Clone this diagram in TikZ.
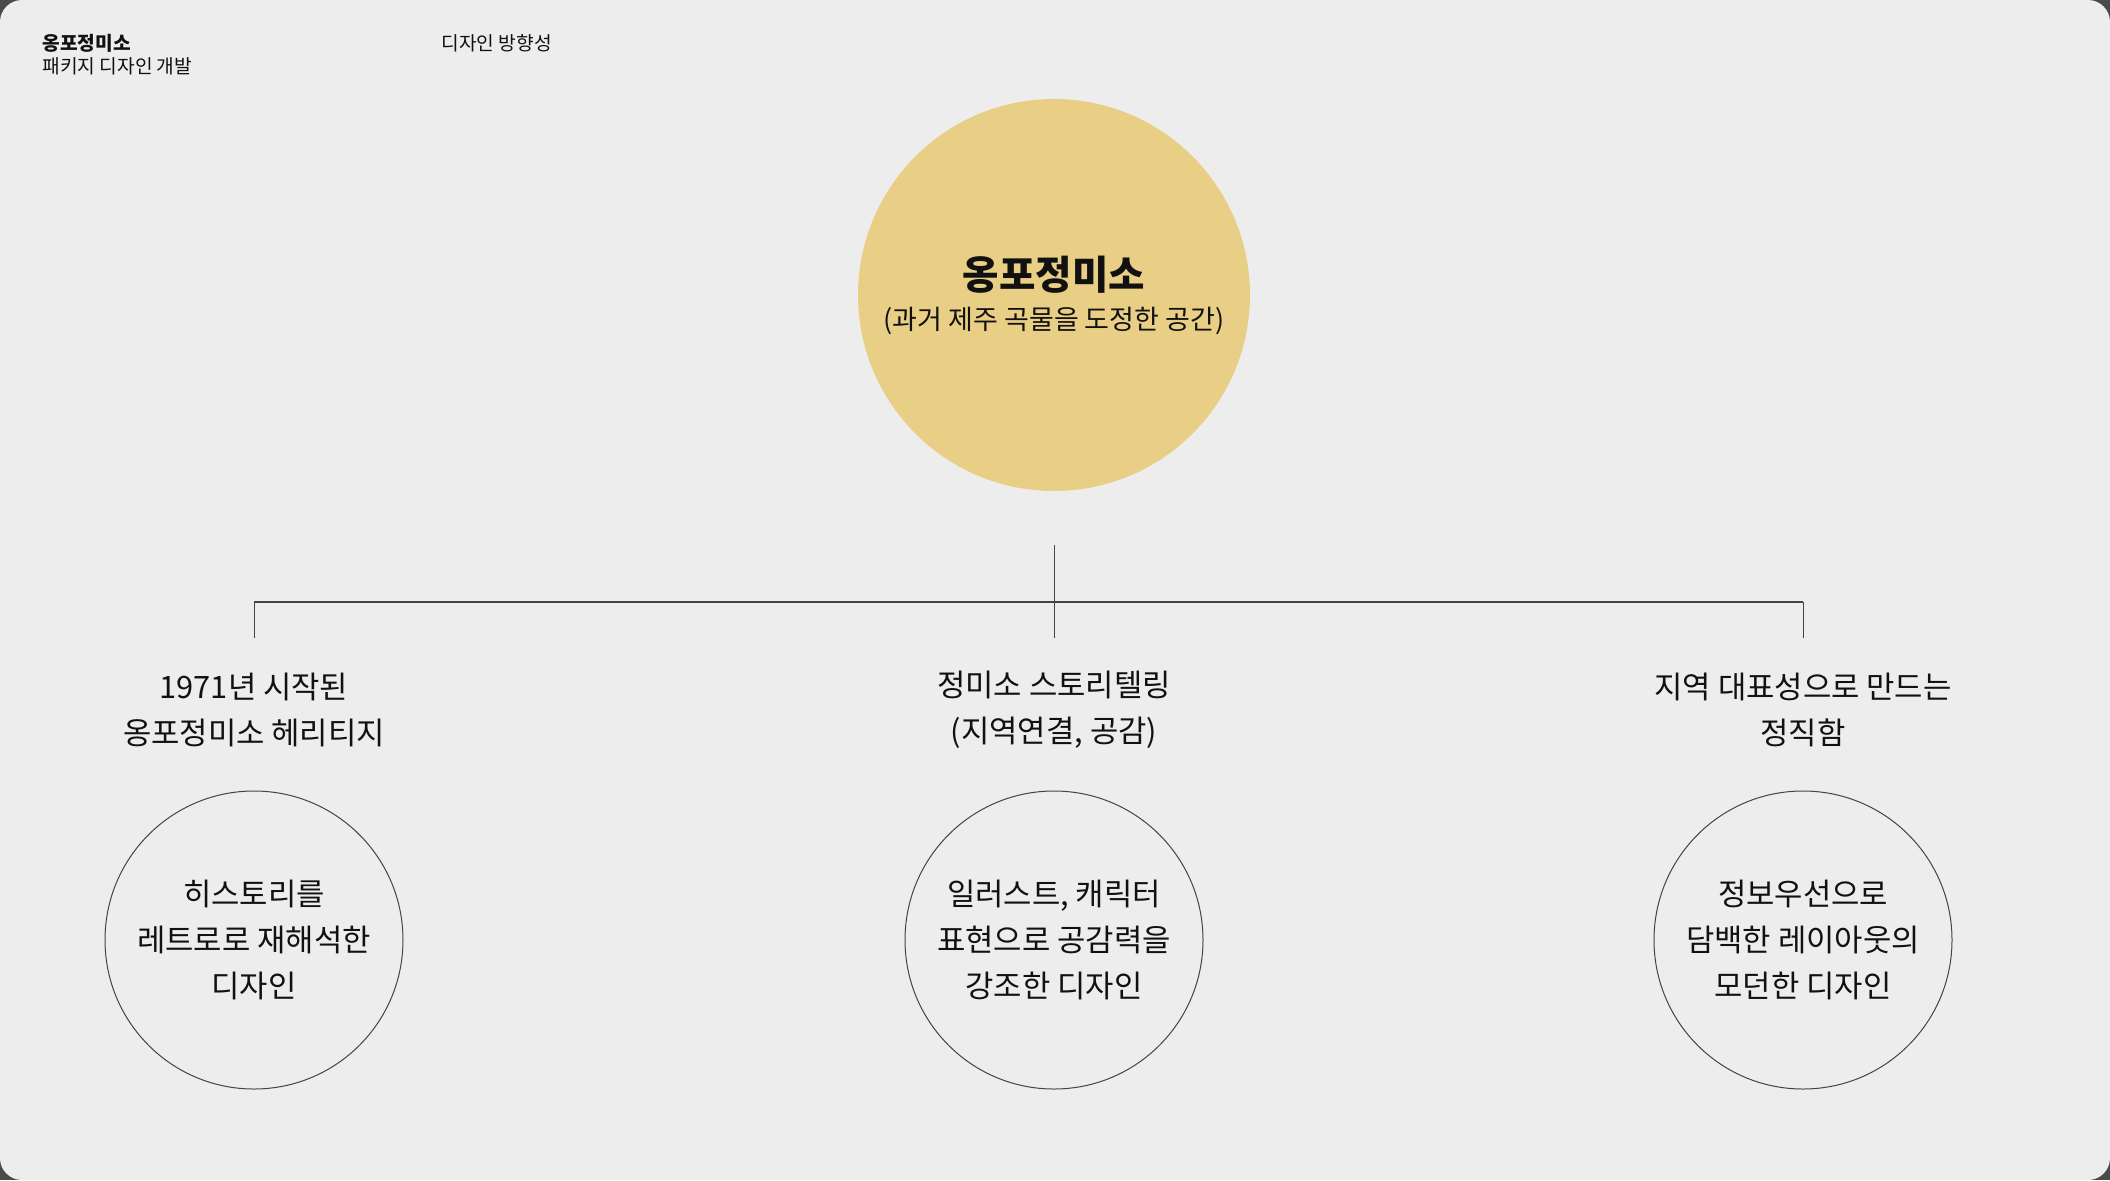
\documentclass[tikz,border=0pt]{standalone}
\usepackage{fontspec}
\setmainfont{Noto Sans CJK KR}
\definecolor{paper}{HTML}{EDEDED}
\definecolor{frame}{HTML}{4A4A4A}
\definecolor{grain}{HTML}{E9CF85}
\definecolor{ink}{HTML}{111111}
\definecolor{rule}{HTML}{444444}

\begin{document}
\begin{tikzpicture}[x=0.5pt,y=-0.5pt]
    \tikzstyle{every node}=[font=\fontsize{15.4}{23}\selectfont, text=ink, align=center, inner sep=0pt]
    \tikzstyle{idea}=[circle, draw=rule, line width=0.5pt, minimum size=149pt]
    \tikzstyle{wire}=[draw=rule, line width=0.5pt]
    \useasboundingbox (0,0) rectangle (2110,1180);
    \fill[frame] (0,0) rectangle (2110,1180);
    \fill[paper, rounded corners=11pt] (0,0) rectangle (2110,1180);

    \node[anchor=west, align=left, font=\fontsize{9.6}{11.5}\selectfont] (brand) at (42,55)
    {\bfseries 옹포정미소\\패키지 디자인 개발};
    \node[anchor=west, font=\fontsize{9.6}{11.5}\selectfont] (section) at (441,43) {디자인 방향성};

    \node[circle, fill=grain, minimum size=196pt] (origin) at (1054,295)
    {{\fontsize{19.8}{22}\selectfont\bfseries 옹포정미소}\\[-3pt]
    {\fontsize{13.5}{16}\selectfont (과거 제주 곡물을 도정한 공간)}};

    \coordinate (stemtop) at (1054,545);
    \coordinate (lefthub) at (254,602);
    \coordinate (righthub) at (1803,602);
    \coordinate (leftend) at (254,638);
    \coordinate (midend) at (1054,638);
    \coordinate (rightend) at (1803,638);
    \draw[wire] (stemtop) -- (midend);
    \draw[wire, line width=0.9pt] (lefthub) -- (righthub);
    \draw[wire] (lefthub) -- (leftend);
    \draw[wire] (righthub) -- (rightend);

    \node (heritage) at (254,710) {1971년 시작된\\옹포정미소 헤리티지};
    \node (story) at (1054,710) {정미소 스토리텔링\\(지역연결, 공감)};
    \node (identity) at (1803,710) {지역 대표성으로 만드는\\정직함};

    \node[idea] (retro) at (254,940) {히스토리를\\레트로로 재해석한\\디자인};
    \node[idea] (empathy) at (1054,940) {일러스트, 캐릭터\\표현으로 공감력을\\강조한 디자인};
    \node[idea] (modern) at (1803,940) {정보우선으로\\담백한 레이아웃의\\모던한 디자인};

\end{tikzpicture}
\end{document}
